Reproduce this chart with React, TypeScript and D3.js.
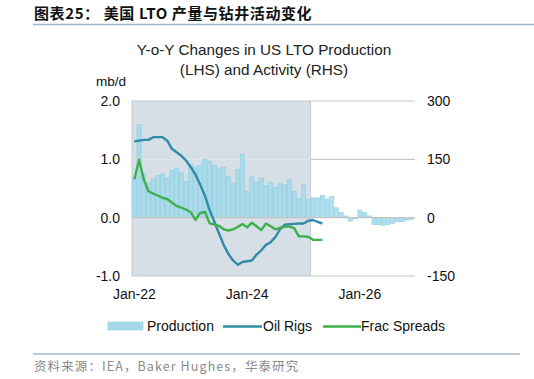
import React from "react";
import * as d3 from "d3";

// Monthly categories Jan-22 .. Dec-26
const months: string[] = [
  "2022-01","2022-02","2022-03","2022-04","2022-05","2022-06","2022-07","2022-08","2022-09","2022-10","2022-11","2022-12",
  "2023-01","2023-02","2023-03","2023-04","2023-05","2023-06","2023-07","2023-08","2023-09","2023-10","2023-11","2023-12",
  "2024-01","2024-02","2024-03","2024-04","2024-05","2024-06","2024-07","2024-08","2024-09","2024-10","2024-11","2024-12",
  "2025-01","2025-02","2025-03","2025-04","2025-05","2025-06","2025-07","2025-08","2025-09","2025-10","2025-11","2025-12",
  "2026-01","2026-02","2026-03","2026-04","2026-05","2026-06","2026-07","2026-08","2026-09","2026-10","2026-11","2026-12",
];

// Y-o-Y change in LTO production, mb/d (LHS)
const production: number[] = [
  0.68, 1.6, 0.76, 0.6, 0.66, 0.72, 0.75, 0.68, 0.81, 0.84, 0.77, 0.62,
  0.91, 0.87, 0.9, 1.0, 0.97, 0.9, 0.85, 0.86, 0.71, 0.58, 0.83, 1.09,
  0.45, 0.7, 0.61, 0.68, 0.55, 0.61, 0.52, 0.58, 0.57, 0.65, 0.45, 0.33,
  0.57, 0.31, 0.34, 0.34, 0.38, 0.32, 0.36, 0.17, 0.09, 0.03, -0.06, -0.02,
  0.13, 0.09, 0.03, -0.12, -0.12, -0.13, -0.12, -0.1, -0.07, -0.07, -0.04, -0.03,
];

// Y-o-Y change in oil rigs (RHS)
const oilRigs: number[] = [
  196, 198, 200, 200, 207, 207, 207, 198, 177, 168, 159, 147,
  130, 111, 85, 57, 20, -10, -40, -70, -93, -110, -121, -114,
  -112, -110, -95, -84, -70, -63, -50, -30, -18, -17, -16, -15,
  -15, -8, -6, -11, -15,
];

// Y-o-Y change in frac spreads (RHS)
const fracSpreads: number[] = [
  99, 149, 98, 68, 62, 57, 51, 48, 39, 30, 26, 21,
  14, -6, 12, 15, -14, -18, -21, -30, -33, -30, -24, -16,
  -25, -13, -22, -32, -15, -22, -30, -26, -23, -23, -27, -48,
  -48, -49, -57, -57, -57,
];

const leftTicks: number[] = [2.0, 1.0, 0.0, -1.0];
const rightTicks: number[] = [300, 150, 0, -150];
const xTickLabels: { month: string; label: string }[] = [
  { month: "2022-01", label: "Jan-22" },
  { month: "2024-01", label: "Jan-24" },
  { month: "2026-01", label: "Jan-26" },
];
const historyEnd = "2025-02";

const FONT = "'Liberation Sans', Arial, sans-serif";
const CJK = "'Noto Sans CJK SC', sans-serif";

export default function App() {
  const W = 534, H = 379;
  const left = 132, right = 414, top = 101, bottom = 276;

  const x = d3.scaleBand<string>().domain(months).range([left, right]).paddingInner(0).paddingOuter(0);
  const y = d3.scaleLinear().domain([-1, 2]).range([bottom, top]);
  const yR = d3.scaleLinear().domain([-150, 300]).range([bottom, top]);
  const bw = x.bandwidth();
  const cx = (m: string) => (x(m) as number) + bw / 2;

  const shadeRight = (x(historyEnd) as number) + bw;

  const rigLine = d3.line<number>()
    .x((_, i) => cx(months[i]))
    .y((d) => yR(d))
    .curve(d3.curveLinear);

  return (
    <svg width={W} height={H} style={{ position: "absolute", left: 0, top: 0, background: "#fff" }}>
      {/* header */}
      <text x={34} y={19} fontFamily={CJK} fontWeight={700} fontSize={15} letterSpacing={0.6} fill="#111">
        图表25：  美国 LTO 产量与钻井活动变化
      </text>
      <line x1={33} x2={534} y1={24.5} y2={24.5} stroke="#9fb3cb" strokeWidth={1.5} />

      {/* title */}
      <text x={264} y={55} textAnchor="middle" fontFamily={FONT} fontSize={15.3} fill="#222">
        Y-o-Y Changes in US LTO Production
      </text>
      <text x={264} y={75} textAnchor="middle" fontFamily={FONT} fontSize={15.3} fill="#222">
        (LHS) and Activity (RHS)
      </text>
      <text x={96} y={86} fontFamily={FONT} fontSize={13.5} fill="#111">mb/d</text>

      {/* shaded history region */}
      <rect x={left} y={top} width={shadeRight - left} height={bottom - top}
        fill="#d6dee6" stroke="#c3cbd4" strokeWidth={1} />

      {/* gridlines in the forecast region */}
      {rightTicks.filter((t) => t !== 0).map((t) => (
        <line key={t} x1={shadeRight} x2={right + 1} y1={yR(t)} y2={yR(t)} stroke="#c8c8c8" strokeWidth={1.2} />
      ))}
      <line x1={left} x2={shadeRight} y1={y(1)} y2={y(1)} stroke="#e2e6ea" strokeWidth={1} />

      {/* bars */}
      {production.map((v, i) => (
        <rect key={i}
          x={x(months[i]) as number + 0.3}
          y={v >= 0 ? y(v) : y(0)}
          width={bw - 0.6}
          height={Math.abs(y(v) - y(0))}
          fill="#a3d9ea" fillOpacity={0.85}
          stroke="#8dcfe2" strokeWidth={0.6} />
      ))}

      {/* zero line */}
      <line x1={left} x2={right + 1} y1={y(0)} y2={y(0)} stroke="#c4c4c4" strokeWidth={1.2} />

      {/* lines */}
      <path d={rigLine(oilRigs) || ""} fill="none" stroke="#2f8ca6" strokeWidth={2.4} strokeLinejoin="round" />
      <path d={rigLine(fracSpreads) || ""} fill="none" stroke="#3db04b" strokeWidth={2.4} strokeLinejoin="round" />

      {/* left axis labels */}
      {leftTicks.map((t) => (
        <text key={t} x={120} y={y(t) + 5} textAnchor="end" fontFamily={FONT} fontSize={14} fill="#111">
          {t.toFixed(1)}
        </text>
      ))}
      {/* right axis labels */}
      {rightTicks.map((t) => (
        <text key={t} x={427} y={yR(t) + 5} textAnchor="start" fontFamily={FONT} fontSize={14} fill="#111">
          {t}
        </text>
      ))}
      {/* x labels */}
      {xTickLabels.map((d) => (
        <text key={d.label} x={cx(d.month)} y={299} textAnchor="middle" fontFamily={FONT} fontSize={14} fill="#111">
          {d.label}
        </text>
      ))}

      {/* legend */}
      <rect x={108} y={322} width={35} height={8} fill="#a3d9ea" stroke="#8dcfe2" strokeWidth={0.6} />
      <text x={147} y={331} fontFamily={FONT} fontSize={14} fill="#111">Production</text>
      <line x1={223} x2={262} y1={326.5} y2={326.5} stroke="#2f8ca6" strokeWidth={2.4} />
      <text x={263} y={331} fontFamily={FONT} fontSize={14} fill="#111">Oil Rigs</text>
      <line x1={323} x2={361} y1={326.5} y2={326.5} stroke="#3db04b" strokeWidth={2.4} />
      <text x={361} y={331} fontFamily={FONT} fontSize={14} fill="#111">Frac Spreads</text>

      {/* footer */}
      <line x1={33} x2={520} y1={354} y2={354} stroke="#a9bcd3" strokeWidth={1.5} />
      <text x={34} y={371} fontFamily={CJK} fontSize={12.5} letterSpacing={1.1} fill="#8a8a8a">
        资料来源：IEA，Baker Hughes，华泰研究
      </text>
    </svg>
  );
}
